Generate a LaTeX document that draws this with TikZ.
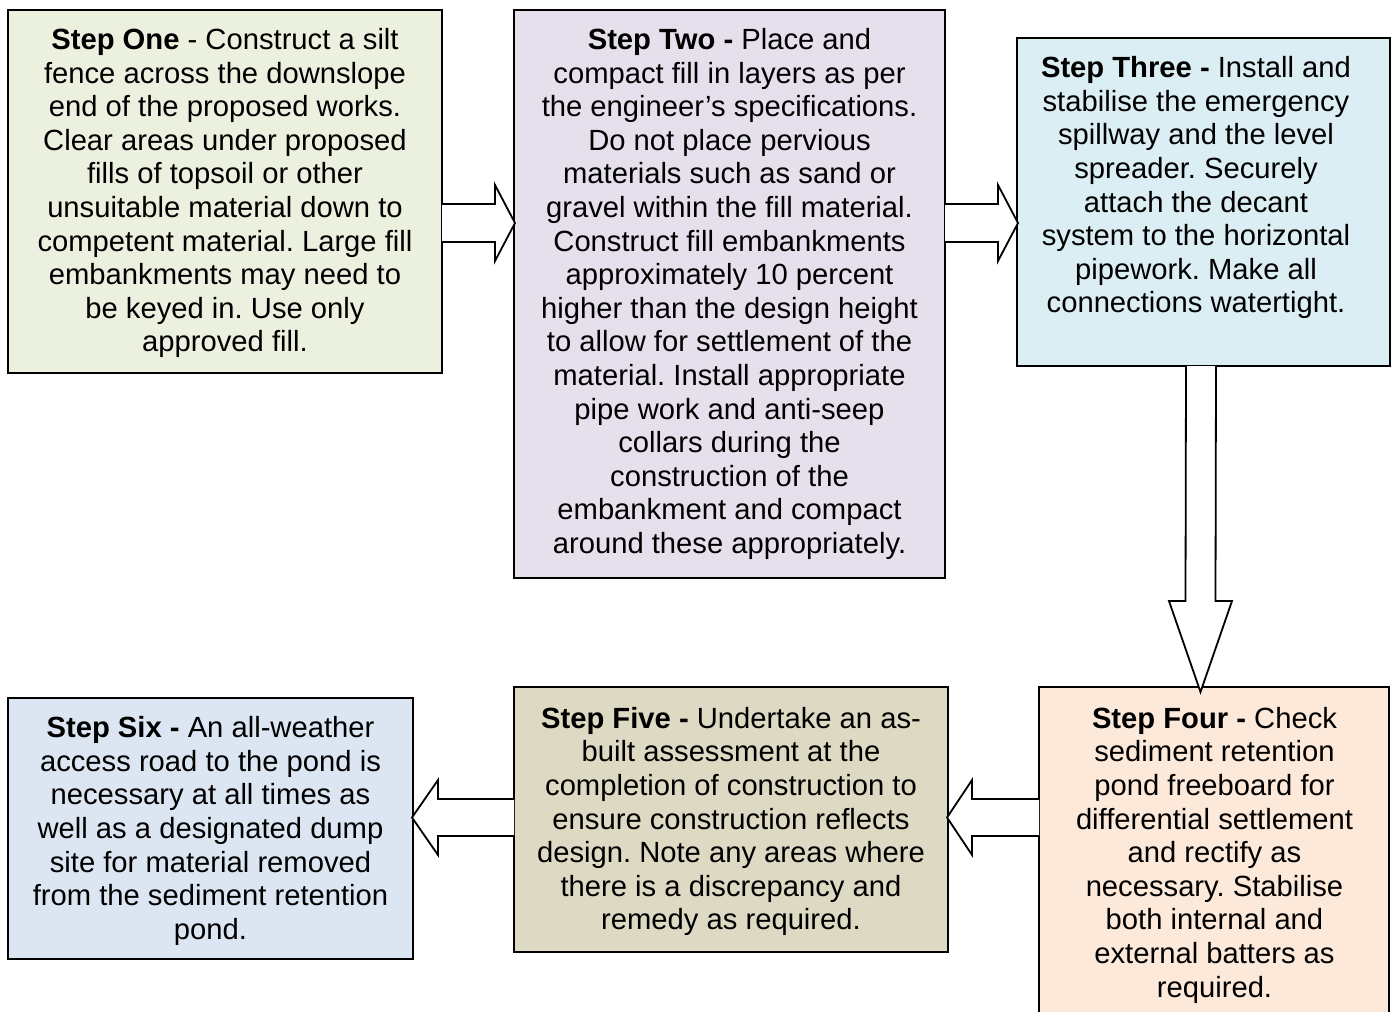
\documentclass[tikz,border=0pt]{standalone}
\usepackage{fontspec}
\setmainfont{Liberation Sans}
\usetikzlibrary{calc}

\definecolor{oneFill}{HTML}{EBF1DE}
\definecolor{twoFill}{HTML}{E5E0EC}
\definecolor{threeFill}{HTML}{DBEEF4}
\definecolor{fourFill}{HTML}{FDE9D9}
\definecolor{fiveFill}{HTML}{DDD9C3}
\definecolor{sixFill}{HTML}{DCE6F2}

\tikzset{
  stepbox/.style={draw=black, line width=1.4pt, inner sep=0pt, outer sep=0pt},
  steptext/.style={anchor=north, inner sep=0pt, align=center,
    font=\fontsize{29.2pt}{33.6pt}\selectfont\frenchspacing},
  blockarrow/.style={draw=black, fill=white, line width=1.8pt, line join=miter}
}

\begin{document}
\begin{tikzpicture}[x=1pt, y=-1pt]
\clip (0,0) rectangle (1393,1012);
\fill[white] (0,0) rectangle (1393,1012);

% process boxes
\node[stepbox, fill=oneFill,   minimum width=434pt, minimum height=363pt] (s1) at (225,191.5) {};
\node[stepbox, fill=twoFill,   minimum width=431pt, minimum height=568pt] (s2) at (729.5,294) {};
\node[stepbox, fill=threeFill, minimum width=373pt, minimum height=328pt] (s3) at (1203.5,202) {};
\node[stepbox, fill=fourFill,  minimum width=350pt, minimum height=353pt] (s4) at (1214,863.5) {};
\node[stepbox, fill=fiveFill,  minimum width=434pt, minimum height=265pt] (s5) at (731,819.5) {};
\node[stepbox, fill=sixFill,   minimum width=405pt, minimum height=261pt] (s6) at (210.5,828.5) {};

% box texts
\node[steptext] (t1) at (225,25.7) {\strut\textbf{Step One} - Construct a silt\\
fence across the downslope\\
end of the proposed works.\\
Clear areas under proposed\\
fills of topsoil or other\\
unsuitable material down to\\
competent material. Large fill\\
embankments may need to\\
be keyed in. Use only\\
approved fill.};

\node[steptext] (t2) at (729.5,25.7) {\strut\textbf{Step Two -} Place and\\
compact fill in layers as per\\
the engineer’s specifications.\\
Do not place pervious\\
materials such as sand or\\
gravel within the fill material.\\
Construct fill embankments\\
approximately 10 percent\\
higher than the design height\\
to allow for settlement of the\\
material. Install appropriate\\
pipe work and anti-seep\\
collars during the\\
construction of the\\
embankment and compact\\
around these appropriately.};

\node[steptext] (t3) at (1196,54) {\strut\textbf{Step Three -} Install and\\
stabilise the emergency\\
spillway and the level\\
spreader. Securely\\
attach the decant\\
system to the horizontal\\
pipework. Make all\\
connections watertight.};

\node[steptext] (t4) at (1214.5,704.5) {\strut\textbf{Step Four -} Check\\
sediment retention\\
pond freeboard for\\
differential settlement\\
and rectify as\\
necessary. Stabilise\\
both internal and\\
external batters as\\
required.};

\node[steptext] (t5) at (731,704.5) {\strut\textbf{Step Five -} Undertake an as-\\
built assessment at the\\
completion of construction to\\
ensure construction reflects\\
design. Note any areas where\\
there is a discrepancy and\\
remedy as required.};

\node[steptext] (t6) at (210.5,714) {\strut\textbf{Step Six -} An all-weather\\
access road to the pond is\\
necessary at all times as\\
well as a designated dump\\
site for material removed\\
from the sediment retention\\
pond.};

% arrow end points on the box edges
\coordinate (a12s) at (s1.east |- 0,223);
\coordinate (a12e) at (s2.west |- 0,223);
\coordinate (a23s) at (s2.east |- 0,223);
\coordinate (a23e) at (s3.west |- 0,223);
\coordinate (a34s) at (s3.south -| 1201,0);
\coordinate (a34e) at (1200.5,692);
\coordinate (a45s) at (s4.west |- 0,817.5);
\coordinate (a45e) at (s5.east |- 0,817.5);
\coordinate (a56s) at (s5.west |- 0,817.5);
\coordinate (a56e) at (s6.east |- 0,817.5);

% block arrows
\path[blockarrow] (a12s) ++(0,-19) -- ($(a12e)+(-19,-19)$) -- ($(a12e)+(-19,-38)$)
  -- ($(a12e)+(1,0)$) -- ($(a12e)+(-19,38)$) -- ($(a12e)+(-19,19)$) -- ($(a12s)+(0,19)$);
\path[blockarrow] (a23s) ++(0,-19) -- ($(a23e)+(-19,-19)$) -- ($(a23e)+(-19,-38)$)
  -- ($(a23e)+(1,0)$) -- ($(a23e)+(-19,38)$) -- ($(a23e)+(-19,19)$) -- ($(a23s)+(0,19)$);
\path[blockarrow] (a34s) ++(-15,0) -- ($(a34e |- 0,601)+(-15,0)$) -- ($(a34e |- 0,601)+(-31.5,0)$)
  -- (a34e) -- ($(a34e |- 0,601)+(31.5,0)$) -- ($(a34e |- 0,601)+(15,0)$) -- ($(a34s)+(15,0)$);
\path[blockarrow] (a45s) ++(0,-18.5) -- ($(a45e)+(24,-18.5)$) -- ($(a45e)+(24,-37.5)$)
  -- ($(a45e)+(-1,0)$) -- ($(a45e)+(24,37.5)$) -- ($(a45e)+(24,18.5)$) -- ($(a45s)+(0,18.5)$);
\path[blockarrow] (a56s) ++(0,-18.5) -- ($(a56e)+(25,-18.5)$) -- ($(a56e)+(25,-37.5)$)
  -- ($(a56e)+(-1,0)$) -- ($(a56e)+(25,37.5)$) -- ($(a56e)+(25,18.5)$) -- ($(a56s)+(0,18.5)$);
\end{tikzpicture}
\end{document}
